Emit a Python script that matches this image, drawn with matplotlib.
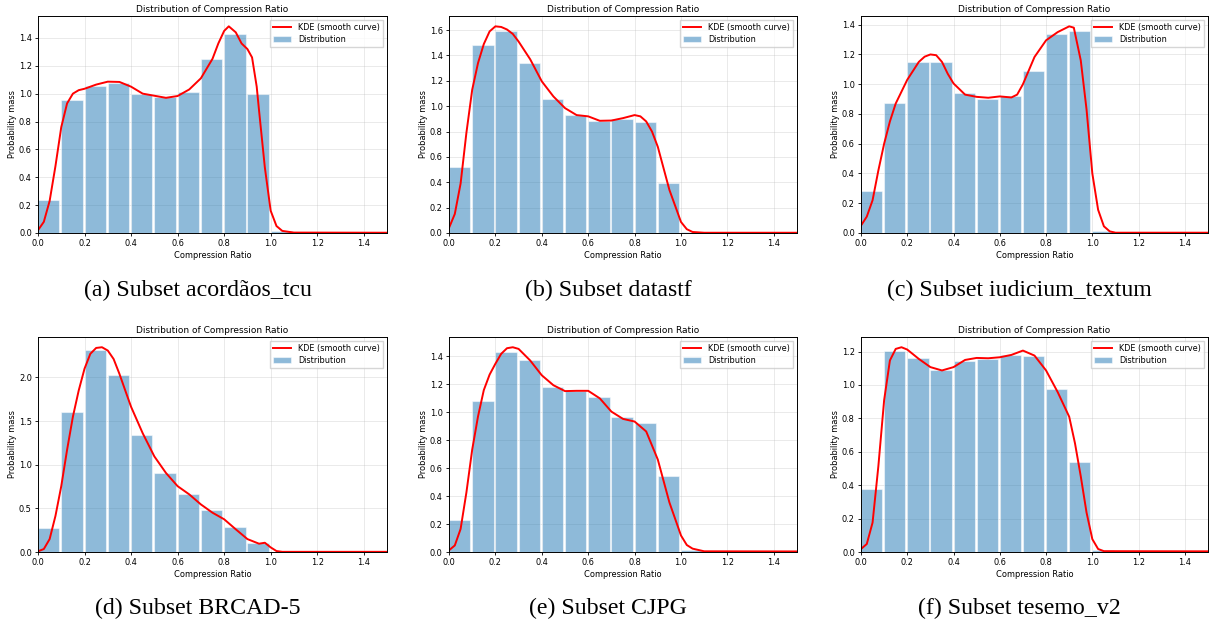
import numpy as np
import matplotlib
matplotlib.use("Agg")
import matplotlib.pyplot as plt

# bin left edges (width 0.1) shared by all subsets
bin_edges = [0.0, 0.1, 0.2, 0.3, 0.4, 0.5, 0.6, 0.7, 0.8, 0.9, 1.0, 1.1, 1.2, 1.3, 1.4]

captions = ["(a) Subset acordãos_tcu", "(b) Subset datastf", "(c) Subset iudicium_textum",
            "(d) Subset BRCAD-5", "(e) Subset CJPG", "(f) Subset tesemo_v2"]

# histogram heights (probability mass density)
hist_a = [0.234, 0.957, 1.053, 1.079, 1.0, 0.975, 1.014, 1.246, 1.426, 1.0, 0.012, 0, 0, 0, 0]
hist_b = [0.523, 1.486, 1.597, 1.344, 1.059, 0.927, 0.887, 0.90, 0.874, 0.393, 0.005, 0, 0, 0, 0]
hist_c = [0.281, 0.877, 1.148, 1.152, 0.938, 0.90, 0.918, 1.092, 1.337, 1.36, 0.013, 0, 0, 0, 0]
hist_d = [0.273, 1.602, 2.31, 2.027, 1.341, 0.909, 0.667, 0.481, 0.284, 0.102, 0.0, 0, 0, 0, 0]
hist_e = [0.232, 1.083, 1.435, 1.376, 1.178, 1.154, 1.107, 0.965, 0.922, 0.544, 0.017, 0, 0, 0, 0]
hist_f = [0.378, 1.206, 1.162, 1.089, 1.143, 1.158, 1.178, 1.174, 0.974, 0.541, 0.01, 0, 0, 0, 0]

# KDE curves, points
kde_a_x = [0, 0.025, 0.05, 0.075, 0.1, 0.125, 0.15, 0.175, 0.2, 0.25, 0.3, 0.35, 0.4, 0.45, 0.5, 0.55,
           0.6, 0.65, 0.7, 0.75, 0.775, 0.8, 0.82, 0.85, 0.875, 0.9, 0.92, 0.94, 0.95, 0.975, 1.0, 1.025, 1.05, 1.1, 1.5]
kde_a_y = [0.02, 0.08, 0.23, 0.48, 0.76, 0.93, 1.0, 1.025, 1.035, 1.065, 1.086, 1.084, 1.05, 1.0, 0.985, 0.97,
           0.983, 1.03, 1.11, 1.25, 1.36, 1.45, 1.483, 1.44, 1.36, 1.32, 1.26, 1.05, 0.88, 0.47, 0.16, 0.05, 0.015, 0.003, 0.002]

kde_b_x = [0, 0.025, 0.05, 0.075, 0.1, 0.125, 0.15, 0.175, 0.2, 0.225, 0.25, 0.275, 0.3, 0.35, 0.4,
           0.45, 0.5, 0.55, 0.6, 0.65, 0.7, 0.75, 0.8, 0.825, 0.85, 0.875, 0.9, 0.95, 1.0, 1.025, 1.05, 1.1, 1.5]
kde_b_y = [0.04, 0.15, 0.39, 0.79, 1.13, 1.34, 1.49, 1.59, 1.63, 1.625, 1.605, 1.57, 1.51, 1.37, 1.196,
           1.077, 0.985, 0.93, 0.92, 0.885, 0.887, 0.906, 0.93, 0.92, 0.88, 0.8, 0.68, 0.34, 0.087, 0.03, 0.008, 0.002, 0.002]

kde_c_x = [0, 0.025, 0.05, 0.075, 0.1, 0.125, 0.15, 0.2, 0.25, 0.275, 0.3, 0.325, 0.35, 0.375, 0.4, 0.45, 0.5,
           0.55, 0.6, 0.65, 0.675, 0.7, 0.75, 0.8, 0.85, 0.9, 0.92, 0.95, 0.975, 1.0, 1.025, 1.05, 1.075, 1.1, 1.5]
kde_c_y = [0.05, 0.11, 0.22, 0.42, 0.60, 0.75, 0.87, 1.03, 1.15, 1.185, 1.20, 1.195, 1.15, 1.07, 1.005, 0.93, 0.915,
           0.909, 0.918, 0.911, 0.93, 1.0, 1.183, 1.295, 1.35, 1.389, 1.38, 1.16, 0.83, 0.40, 0.156, 0.045, 0.011, 0.002, 0.002]

kde_d_x = [0, 0.025, 0.05, 0.075, 0.1, 0.125, 0.15, 0.175, 0.2, 0.225, 0.25, 0.275, 0.3, 0.325, 0.35,
           0.375, 0.4, 0.45, 0.5, 0.55, 0.6, 0.65, 0.7, 0.75, 0.8, 0.85, 0.9, 0.95, 0.975, 1.0, 1.025, 1.05, 1.5]
kde_d_y = [0.008, 0.034, 0.148, 0.413, 0.754, 1.17, 1.55, 1.85, 2.10, 2.27, 2.337, 2.345, 2.307, 2.21, 2.04,
           1.85, 1.663, 1.36, 1.095, 0.905, 0.754, 0.66, 0.545, 0.45, 0.375, 0.26, 0.148, 0.095, 0.106, 0.053, 0.011, 0.002, 0.002]

kde_e_x = [0, 0.025, 0.05, 0.075, 0.1, 0.125, 0.15, 0.175, 0.2, 0.225, 0.25, 0.275, 0.3, 0.35, 0.4, 0.45,
           0.5, 0.55, 0.6, 0.65, 0.7, 0.75, 0.8, 0.85, 0.9, 0.95, 1.0, 1.025, 1.05, 1.1, 1.5]
kde_e_y = [0.012, 0.047, 0.165, 0.426, 0.733, 0.97, 1.159, 1.27, 1.348, 1.419, 1.459, 1.466, 1.454, 1.371, 1.265, 1.194,
           1.152, 1.154, 1.154, 1.10, 1.005, 0.953, 0.934, 0.863, 0.662, 0.355, 0.118, 0.05, 0.024, 0.005, 0.004]

kde_f_x = [0, 0.025, 0.05, 0.075, 0.1, 0.125, 0.15, 0.175, 0.2, 0.25, 0.3, 0.35, 0.4, 0.45, 0.5,
           0.55, 0.6, 0.65, 0.7, 0.75, 0.8, 0.85, 0.9, 0.925, 0.95, 0.975, 1.0, 1.025, 1.05, 1.5]
kde_f_y = [0.018, 0.048, 0.176, 0.513, 0.909, 1.147, 1.216, 1.226, 1.212, 1.156, 1.107, 1.087, 1.107, 1.15, 1.162,
           1.16, 1.166, 1.18, 1.206, 1.176, 1.087, 0.958, 0.81, 0.651, 0.453, 0.236, 0.077, 0.018, 0.005, 0.004]

hists = [hist_a, hist_b, hist_c, hist_d, hist_e, hist_f]
kdes = [(kde_a_x, kde_a_y), (kde_b_x, kde_b_y), (kde_c_x, kde_c_y),
        (kde_d_x, kde_d_y), (kde_e_x, kde_e_y), (kde_f_x, kde_f_y)]

W, H = 1210, 626
fig = plt.figure(figsize=(W / 100, H / 100), dpi=100)

# axes boxes in pixels: left, right / top, bottom
cols = [(38, 387), (449, 797), (861, 1208)]
rows = [(16, 233), (337, 552)]
cap_y = [290, 608]

small = 6.5
for i in range(6):
    r, c = divmod(i, 3)
    l, rr = cols[c]
    t, b = rows[r]
    ax = fig.add_axes([l / W, 1 - b / H, (rr - l) / W, (b - t) / H])
    ax.bar(bin_edges, hists[i], width=0.092, align="edge", color="#1f77b4", alpha=0.5,
           edgecolor="white", linewidth=0.8, label="Distribution")
    ax.plot(kdes[i][0], kdes[i][1], color="red", linewidth=1.4, label="KDE (smooth curve)")
    ax.set_xlim(0, 1.5)
    ax.set_ylim(0, None)
    ax.grid(True, alpha=0.3, linewidth=0.6)
    ax.set_axisbelow(True)
    ax.set_title("Distribution of Compression Ratio", fontsize=small, pad=3)
    ax.set_xlabel("Compression Ratio", fontsize=small * 0.92, labelpad=2)
    ax.set_ylabel("Probability mass", fontsize=small * 0.92, labelpad=1)
    ax.tick_params(labelsize=small * 0.92, length=2.5, width=0.6, pad=2)
    for s in ax.spines.values():
        s.set_linewidth(0.7)
    ax.legend(loc="upper right", fontsize=small * 0.9, handlelength=2.2, borderpad=0.4,
              labelspacing=0.3, fancybox=False, framealpha=0.8)
    fig.text(((l + rr) / 2 - 15) / W, 1 - cap_y[r] / H, captions[i], ha="center", va="center",
             fontsize=17.2, family="Liberation Serif")

fig.savefig("out.png", dpi=100)
